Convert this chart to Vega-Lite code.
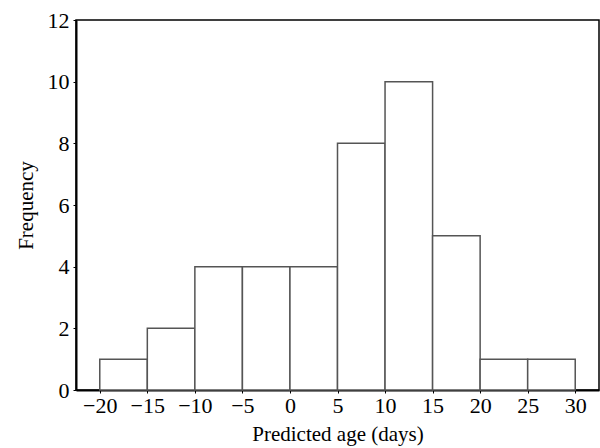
{
  "$schema": "https://vega.github.io/schema/vega-lite/v6.json",
  "width": 523,
  "height": 370,
  "autosize": "none",
  "padding": {"left": 76, "top": 20, "right": 1, "bottom": 58},
  "background": "white",
  "config": {
    "view": {"stroke": "black", "strokeWidth": 1.5},
    "font": "Liberation Serif"
  },
  "data": {
    "values": [
      {"bin_start": -20, "bin_end": -15, "count": 1},
      {"bin_start": -15, "bin_end": -10, "count": 2},
      {"bin_start": -10, "bin_end": -5, "count": 4},
      {"bin_start": -5, "bin_end": 0, "count": 4},
      {"bin_start": 0, "bin_end": 5, "count": 4},
      {"bin_start": 5, "bin_end": 10, "count": 8},
      {"bin_start": 10, "bin_end": 15, "count": 10},
      {"bin_start": 15, "bin_end": 20, "count": 5},
      {"bin_start": 20, "bin_end": 25, "count": 1},
      {"bin_start": 25, "bin_end": 30, "count": 1}
    ]
  },
  "mark": {"type": "rect", "fill": "white", "stroke": "#555555", "strokeWidth": 1.5},
  "encoding": {
    "x": {
      "field": "bin_start",
      "type": "quantitative",
      "scale": {"domain": [-22.5, 32.5], "nice": false, "zero": false},
      "axis": {
        "title": "Predicted age (days)",
        "values": [-20, -15, -10, -5, 0, 5, 10, 15, 20, 25, 30],
        "grid": false,
        "domainColor": "black",
        "domainWidth": 2,
        "tickSize": 3,
        "tickColor": "black",
        "labelFontSize": 22,
        "labelColor": "black",
        "labelPadding": 2,
        "labelFont": "Liberation Serif",
        "titleFont": "Liberation Serif",
        "titleFontSize": 21,
        "titleFontWeight": "normal",
        "titleColor": "black",
        "titlePadding": 7,
        "labelExpr": "replace(datum.label, '-', '\u2013')"
      }
    },
    "x2": {"field": "bin_end"},
    "y": {
      "field": "count",
      "type": "quantitative",
      "scale": {"domain": [0, 12], "nice": false},
      "axis": {
        "title": "Frequency",
        "values": [0, 2, 4, 6, 8, 10, 12],
        "grid": false,
        "domainColor": "black",
        "domainWidth": 2,
        "tickSize": 3,
        "tickColor": "black",
        "labelFontSize": 22,
        "labelColor": "black",
        "labelPadding": 4,
        "labelFont": "Liberation Serif",
        "titleFont": "Liberation Serif",
        "titleFontSize": 21,
        "titleFontWeight": "normal",
        "titleColor": "black",
        "titlePadding": 11
      }
    },
    "y2": {"datum": 0}
  }
}
